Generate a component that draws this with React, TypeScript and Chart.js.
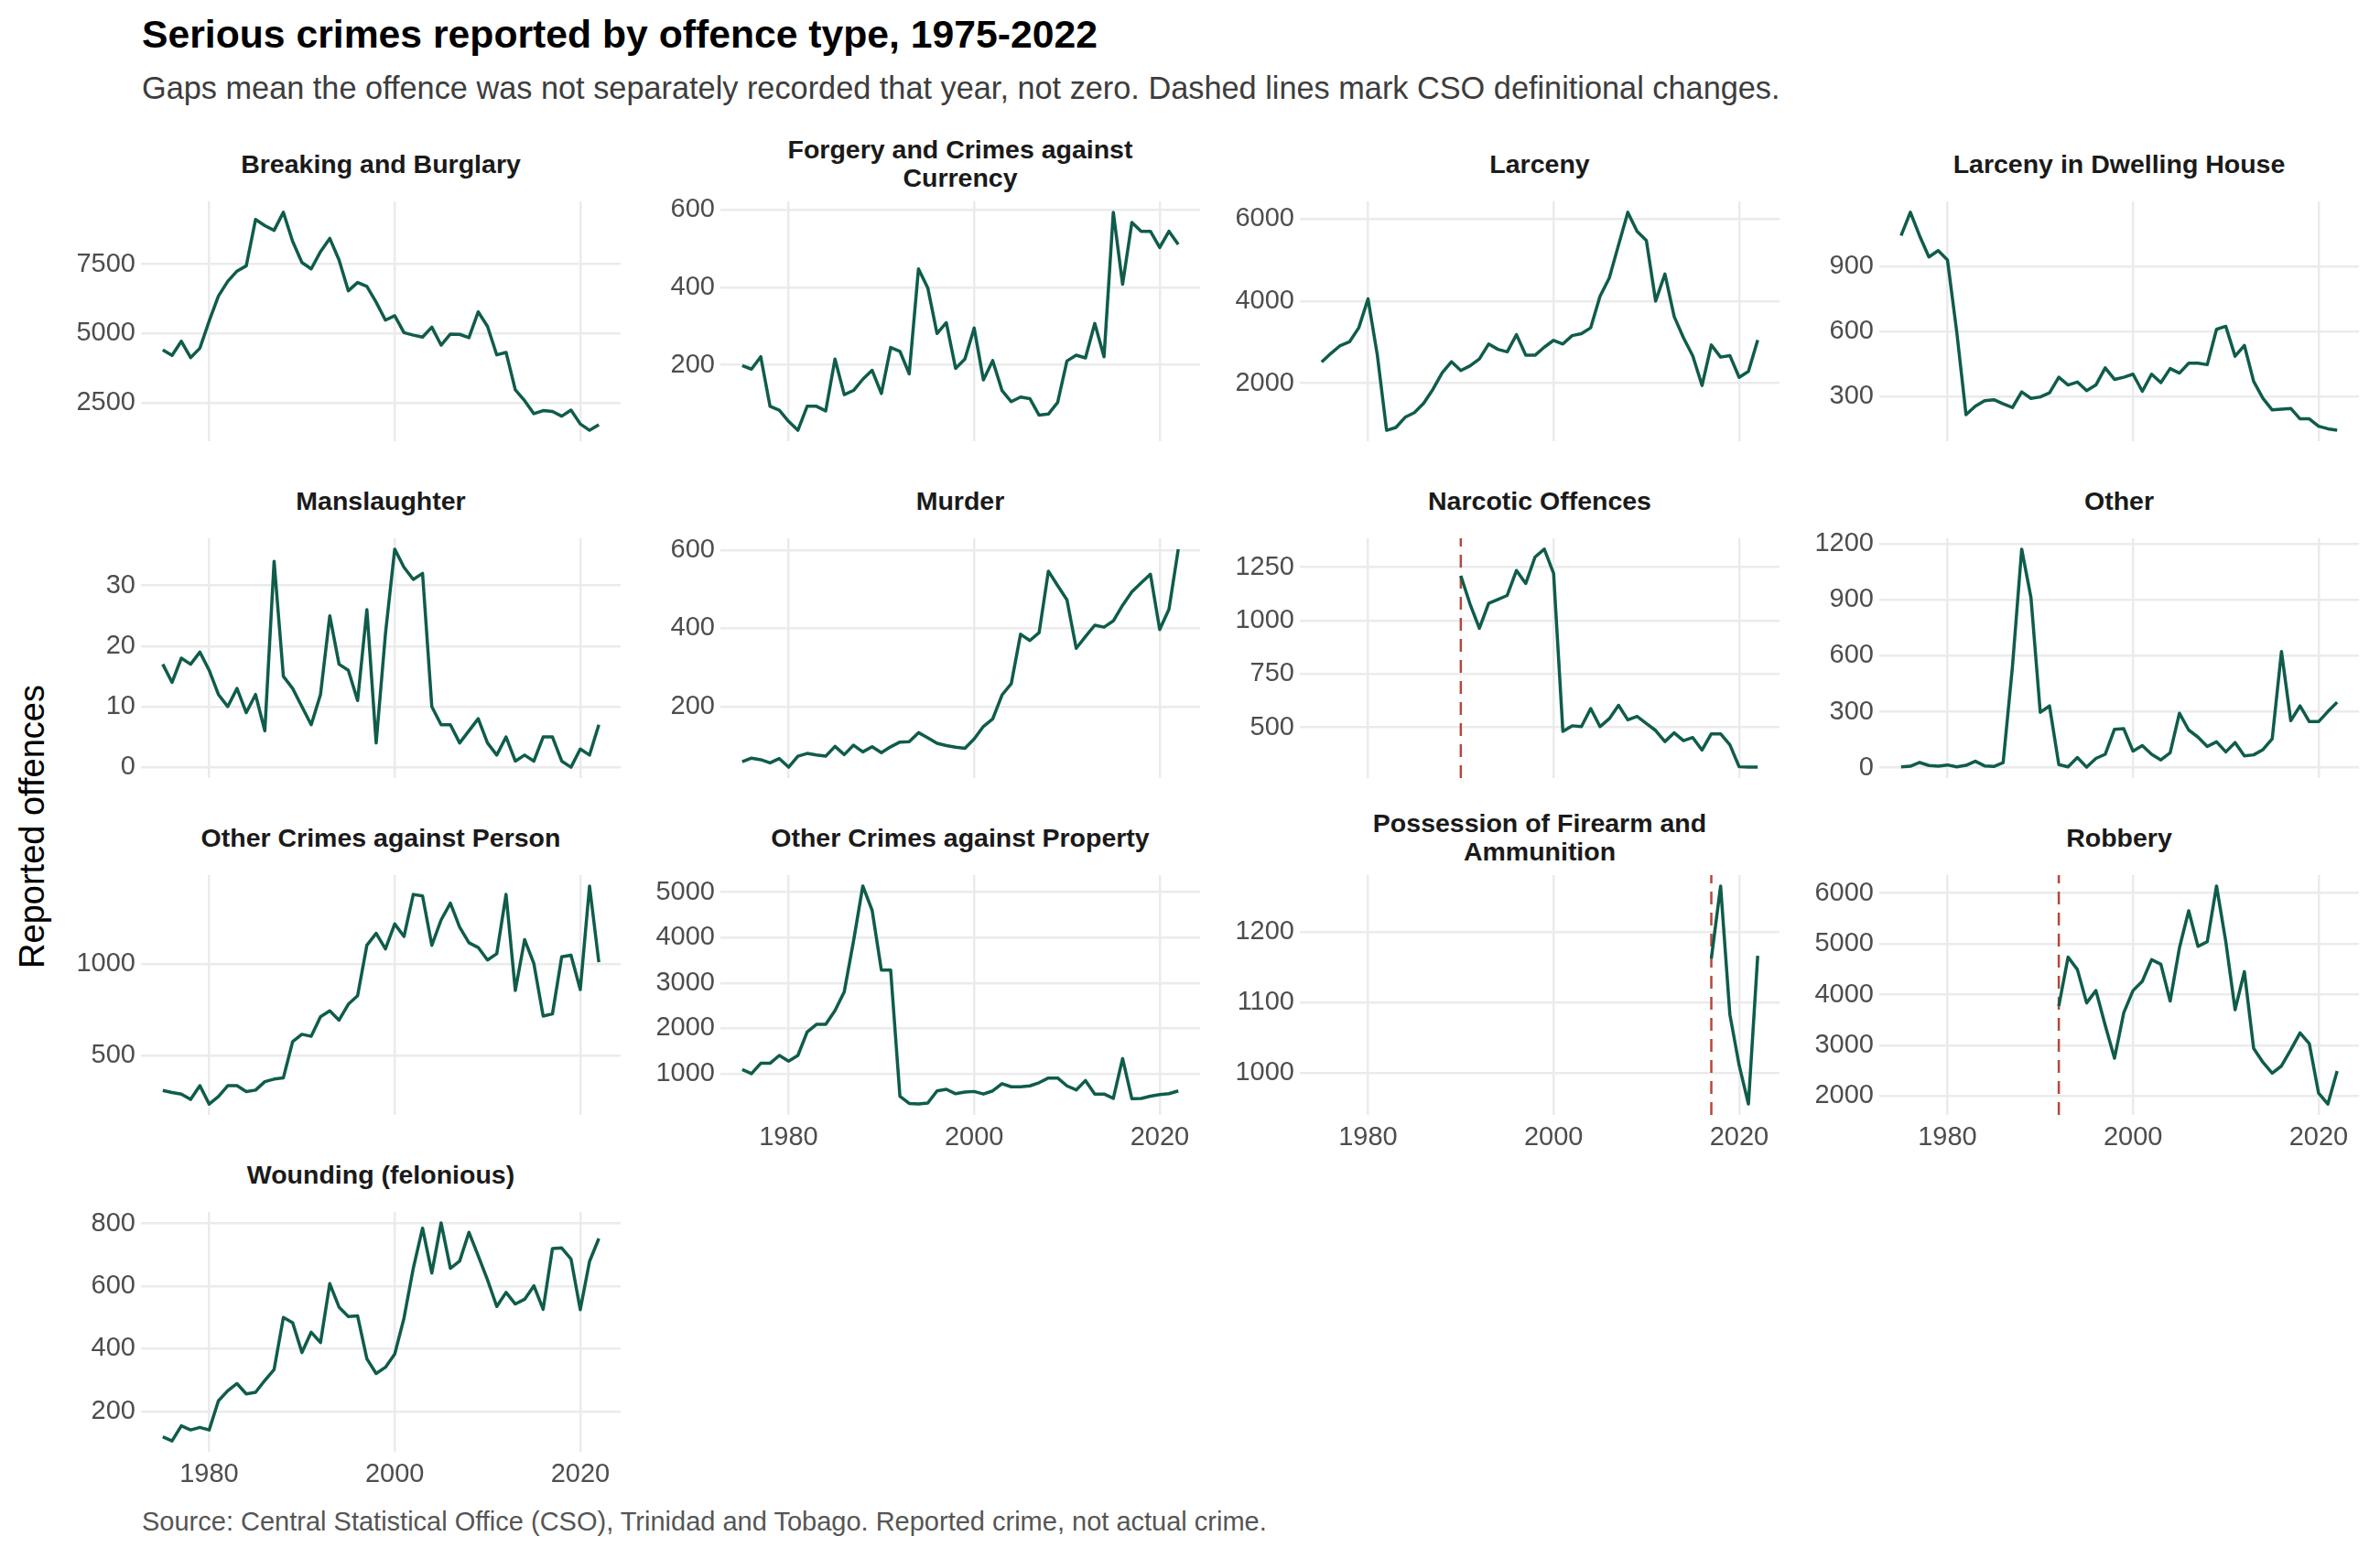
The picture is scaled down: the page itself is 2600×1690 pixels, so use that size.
import React, { useEffect, useRef } from 'react';
import { Chart, registerables } from 'chart.js';

Chart.register(...registerables);

const FONT = '"Liberation Sans", Arial, Helvetica, sans-serif';
const LINE = '#0f5c4b';
const RED = '#b5473b';
const GRID = '#ebebeb';
const TICK = '#4d4d4d';

// years shared by all panels
const FIRST_YEAR = 1975;
const LAST_YEAR = 2022;
const X_TICKS = [1980, 2000, 2020];

// series, one value per year from the start year
const breaking = [4410, 4210, 4720, 4130, 4470, 5450, 6350, 6880, 7250, 7440, 9110, 8890, 8720, 9370, 8320, 7560, 7330, 7950, 8430, 7650, 6540, 6840, 6700, 6130, 5480, 5640, 5030, 4940, 4870, 5230, 4580, 4980, 4970, 4850, 5780, 5260, 4230, 4320, 2970, 2580, 2110, 2220, 2190, 2020, 2240, 1740, 1510, 1710];
const forgery = [198, 189, 221, 93, 83, 54, 31, 93, 93, 81, 215, 123, 134, 163, 186, 126, 245, 235, 177, 448, 399, 281, 309, 191, 215, 295, 161, 211, 134, 105, 117, 113, 70, 73, 103, 210, 225, 218, 307, 221, 594, 408, 568, 545, 545, 503, 545, 511];
const larceny = [2515, 2727, 2917, 3008, 3349, 4053, 2689, 856, 924, 1174, 1288, 1515, 1856, 2258, 2523, 2311, 2424, 2591, 2955, 2826, 2765, 3182, 2682, 2682, 2879, 3045, 2955, 3159, 3205, 3349, 4114, 4561, 5364, 6159, 5697, 5470, 4000, 4659, 3621, 3106, 2667, 1947, 2932, 2636, 2674, 2144, 2288, 3053];
const dwelling = [1041, 1149, 1040, 943, 972, 929, 597, 215, 254, 280, 284, 265, 248, 320, 290, 297, 316, 388, 352, 366, 326, 352, 431, 378, 388, 402, 323, 402, 363, 428, 407, 453, 453, 446, 609, 623, 485, 535, 369, 291, 237, 241, 244, 196, 196, 162, 150, 143];
const manslaughter = [17, 14, 18, 17, 19, 16, 12, 10, 13, 9, 12, 6, 34, 15, 13, 10, 7, 12, 25, 17, 16, 11, 26, 4, 22, 36, 33, 31, 32, 10, 7, 7, 4, 6, 8, 4, 2, 5, 1, 2, 1, 5, 5, 1, 0, 3, 2, 7];
const murder = [60, 69, 65, 57, 68, 46, 74, 81, 77, 74, 99, 78, 102, 85, 98, 83, 98, 110, 111, 134, 121, 107, 101, 97, 94, 118, 150, 169, 230, 259, 385, 369, 389, 546, 509, 473, 349, 379, 408, 403, 419, 459, 493, 516, 538, 397, 449, 602];
// from 1990
const narcotic = [1210, 1077, 964, 1081, 1099, 1118, 1235, 1174, 1298, 1335, 1221, 481, 507, 503, 588, 503, 540, 603, 535, 551, 518, 485, 433, 474, 437, 452, 393, 469, 469, 418, 315, 313, 313];
const other = [5, 8, 28, 12, 8, 15, 5, 13, 35, 10, 7, 27, 540, 1171, 911, 297, 331, 17, 5, 55, 3, 50, 72, 206, 209, 89, 119, 72, 42, 80, 292, 202, 164, 114, 139, 85, 135, 63, 69, 97, 155, 623, 252, 331, 247, 247, 301, 351];
const person = [311, 300, 291, 262, 337, 237, 278, 337, 337, 305, 313, 359, 373, 380, 577, 617, 606, 713, 745, 694, 781, 827, 1102, 1167, 1082, 1218, 1150, 1379, 1371, 1102, 1240, 1332, 1201, 1116, 1090, 1022, 1056, 1379, 856, 1133, 1002, 716, 728, 1039, 1048, 861, 1425, 1010];
const property = [1090, 1000, 1228, 1228, 1401, 1277, 1401, 1920, 2086, 2086, 2391, 2806, 3927, 5138, 4605, 3284, 3284, 502, 343, 329, 350, 619, 654, 557, 592, 606, 550, 619, 779, 709, 709, 730, 799, 903, 903, 730, 640, 848, 550, 550, 453, 1332, 446, 453, 502, 536, 557, 619];
// from 2017
const firearm = [1162, 1265, 1083, 1011, 956, 1166];
// from 1992
const robbery = [3775, 4738, 4494, 3835, 4079, 3396, 2744, 3640, 4079, 4262, 4689, 4598, 3872, 4921, 5653, 4951, 5043, 6141, 5043, 3701, 4451, 2939, 2665, 2451, 2592, 2909, 3244, 3031, 2055, 1841, 2494];
const wounding = [119, 106, 154, 141, 149, 141, 234, 266, 289, 256, 261, 299, 334, 500, 483, 388, 453, 420, 608, 533, 503, 505, 368, 321, 341, 383, 498, 657, 785, 642, 802, 657, 680, 772, 697, 620, 535, 580, 543, 558, 601, 526, 720, 722, 687, 525, 679, 752];

type PanelDef = {
    title: string;
    values: number[];
    start: number;
    ticks: number[];
    change?: number; // CSO definitional change
};

const panels: PanelDef[] = [
    { title: 'Breaking and Burglary', values: breaking, start: 1975, ticks: [2500, 5000, 7500] },
    { title: 'Forgery and Crimes against\nCurrency', values: forgery, start: 1975, ticks: [200, 400, 600] },
    { title: 'Larceny', values: larceny, start: 1975, ticks: [2000, 4000, 6000] },
    { title: 'Larceny in Dwelling House', values: dwelling, start: 1975, ticks: [300, 600, 900] },
    { title: 'Manslaughter', values: manslaughter, start: 1975, ticks: [0, 10, 20, 30] },
    { title: 'Murder', values: murder, start: 1975, ticks: [200, 400, 600] },
    { title: 'Narcotic Offences', values: narcotic, start: 1990, ticks: [500, 750, 1000, 1250], change: 1990 },
    { title: 'Other', values: other, start: 1975, ticks: [0, 300, 600, 900, 1200] },
    { title: 'Other Crimes against Person', values: person, start: 1975, ticks: [500, 1000] },
    { title: 'Other Crimes against Property', values: property, start: 1975, ticks: [1000, 2000, 3000, 4000, 5000] },
    { title: 'Possession of Firearm and\nAmmunition', values: firearm, start: 2017, ticks: [1000, 1100, 1200], change: 2017 },
    { title: 'Robbery', values: robbery, start: 1992, ticks: [2000, 3000, 4000, 5000, 6000], change: 1992 },
    { title: 'Wounding (felonious)', values: wounding, start: 1975, ticks: [200, 400, 600, 800] },
];

// layout
const PLOT_LEFT0 = 154;
const COL_STEP = 633;
const PLOT_W = 524;
const PLOT_TOP0 = 220;
const ROW_STEP = 368;
const PLOT_H = 262;
const AXIS_W = 100;
const XAXIS_H = 46;
const PAD_TOP = 22; // room for the top tick label

const xPad = (LAST_YEAR - FIRST_YEAR) * 0.05;

const Panel = ({ p, col, row, showX }: { p: PanelDef; col: number; row: number; showX: boolean }) => {
    const canvasRef = useRef<HTMLCanvasElement | null>(null);
    const left = PLOT_LEFT0 + col * COL_STEP;
    const top = PLOT_TOP0 + row * ROW_STEP;

    useEffect(() => {
        if (!canvasRef.current) return;
        const pts = p.values.map((v, i) => ({ x: p.start + i, y: v }));
        const lo = Math.min(...p.values);
        const hi = Math.max(...p.values);
        const yPad = (hi - lo) * 0.05;
        const yMin = lo - yPad;
        const yMax = hi + yPad;

        const datasets: any[] = [
            { data: pts, borderColor: LINE, borderWidth: 3.5, pointRadius: 0, tension: 0, borderJoinStyle: 'round' },
        ];
        if (p.change) {
            datasets.push({
                data: [{ x: p.change, y: yMin }, { x: p.change, y: yMax }],
                borderColor: RED, borderWidth: 2.5, borderDash: [14, 9], pointRadius: 0,
            });
        }

        const chart = new Chart(canvasRef.current, {
            type: 'line',
            data: { datasets },
            options: {
                animation: false,
                responsive: false,
                maintainAspectRatio: false,
                layout: { padding: { top: PAD_TOP, left: 0, right: 0, bottom: 0 } },
                plugins: { legend: { display: false }, tooltip: { enabled: false } },
                scales: {
                    x: {
                        type: 'linear',
                        min: FIRST_YEAR - xPad,
                        max: LAST_YEAR + xPad,
                        afterBuildTicks: (s: any) => { s.ticks = X_TICKS.map((v) => ({ value: v })); },
                        afterFit: (s: any) => { s.height = showX ? XAXIS_H : 0; s.paddingLeft = 0; s.paddingRight = 0; },
                        grid: { color: GRID, lineWidth: 2.5, drawTicks: false },
                        border: { display: false },
                        ticks: { display: showX, padding: 8, color: TICK, font: { family: FONT, size: 29 }, callback: (v: any) => String(v), maxRotation: 0 },
                    },
                    y: {
                        min: yMin,
                        max: yMax,
                        afterBuildTicks: (s: any) => { s.ticks = p.ticks.map((v) => ({ value: v })); },
                        afterFit: (s: any) => { s.width = AXIS_W; s.paddingTop = 0; s.paddingBottom = 0; },
                        grid: { color: GRID, lineWidth: 2.5, drawTicks: false },
                        border: { display: false },
                        ticks: { padding: 6, color: TICK, font: { family: FONT, size: 29 }, callback: (v: any) => String(v) },
                    },
                },
            },
        });
        return () => {
            chart.destroy();
        };
    }, [p, showX]);

    const h = PAD_TOP + PLOT_H + (showX ? XAXIS_H : 0);
    return (
        <>
            <div style={{
                position: 'absolute', left, top: top - 76, width: PLOT_W, height: 70,
                display: 'flex', alignItems: 'center', justifyContent: 'center', textAlign: 'center',
                fontWeight: 'bold', fontSize: 28.5, lineHeight: '31px', whiteSpace: 'pre-line', color: '#1a1a1a',
            }}>{p.title}</div>
            <canvas
                ref={canvasRef}
                width={AXIS_W + PLOT_W}
                height={h}
                style={{ position: 'absolute', left: left - AXIS_W, top: top - PAD_TOP, width: AXIS_W + PLOT_W, height: h }}
            />
        </>
    );
};

const App = () => {
    return (
        <div style={{ position: 'fixed', left: 0, top: 0, width: 2600, height: 1690, background: '#fff', fontFamily: FONT, overflow: 'hidden' }}>
            <div style={{ position: 'absolute', left: 155, top: 16, fontSize: 42.7, fontWeight: 'bold', lineHeight: 1, color: '#000', whiteSpace: 'nowrap' }}>
                Serious crimes reported by offence type, 1975-2022
            </div>
            <div style={{ position: 'absolute', left: 155, top: 79, fontSize: 34.3, lineHeight: 1, color: '#3d3d3d', whiteSpace: 'nowrap' }}>
                Gaps mean the offence was not separately recorded that year, not zero. Dashed lines mark CSO definitional changes.
            </div>
            <div style={{
                position: 'absolute', left: 35, top: 903, transform: 'translate(-50%, -50%) rotate(-90deg)',
                fontSize: 38, color: '#000', whiteSpace: 'nowrap', lineHeight: 1,
            }}>Reported offences</div>
            {panels.map((p, i) => {
                const col = i % 4;
                const row = Math.floor(i / 4);
                const showX = row === 3 || (row === 2 && col > 0);
                return <Panel key={p.title} p={p} col={col} row={row} showX={showX} />;
            })}
            <div style={{ position: 'absolute', left: 155, top: 1648, fontSize: 29, lineHeight: 1, color: '#555', whiteSpace: 'nowrap' }}>
                Source: Central Statistical Office (CSO), Trinidad and Tobago. Reported crime, not actual crime.
            </div>
        </div>
    );
};

export default App;
